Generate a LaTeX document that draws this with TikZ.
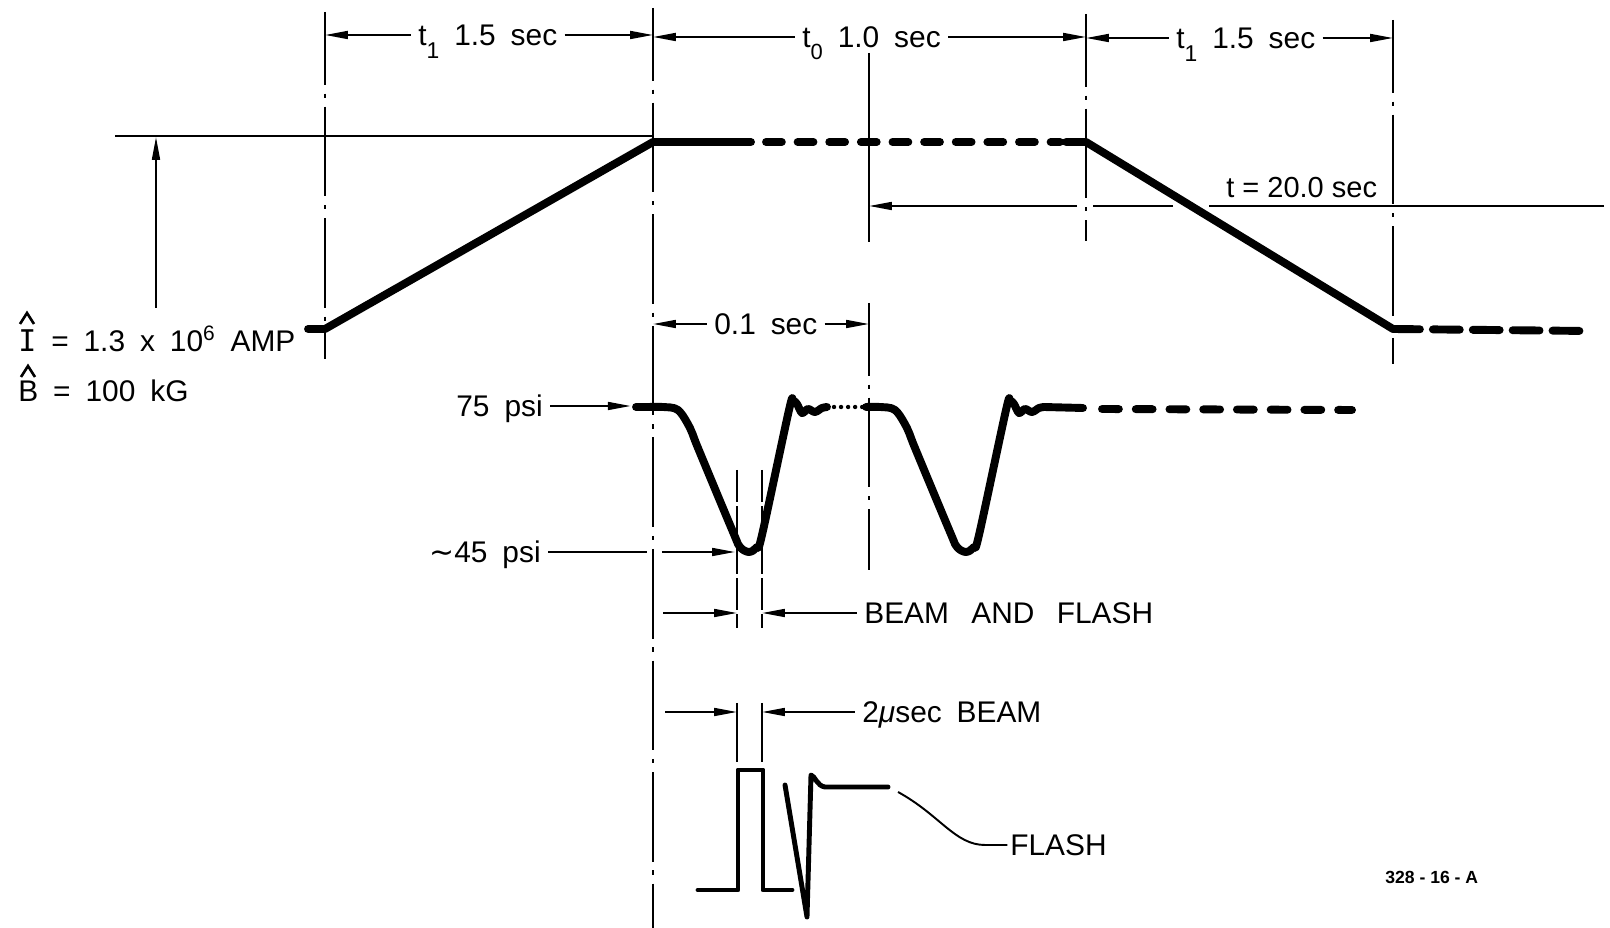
\documentclass[tikz,border=0pt]{standalone}
\usepackage{fontspec}
\setmainfont{Liberation Sans}
\newfontfamily\tildefont{DejaVu Sans}
\newfontfamily\serifcap{DejaVu Sans Mono}
\usetikzlibrary{arrows.meta, calc}

\newcommand\lettering{\fontsize{17}{20}\selectfont\spaceskip=0.5em plus 0.1em\relax}
\newcommand\lowsub[3]{\raisebox{#1}{\fontsize{#2}{#2}\selectfont #3}}

\begin{document}
\begin{tikzpicture}[
    x=0.02cm, y=-0.02cm,
    >={Triangle[length=13pt,width=4.5pt]},
    font=\lettering,
    thinline/.style={line width=1.1pt},
    centreline/.style={thinline, dash pattern=on 51pt off 5pt on 2.5pt off 5pt, dash phase=9.6pt},
    dim/.style={thinline, ->, shorten <=4pt},
    lab/.style={inner sep=0pt, text height=12.2pt, text depth=0pt, anchor=west},
    trace/.style={line width=4.5pt, line cap=round, line join=round},
    pulse/.style={line width=2.8pt, line cap=round, line join=round},
    winline/.style={thinline, dash pattern=on 18pt off 2.5pt},
    caret/.style={line width=1.5pt, line join=miter},
]
\useasboundingbox (0,0) rectangle (1610,928);

% centre lines
\coordinate (vA) at (325,12);  \draw[centreline] (vA) -- (325,359);
\coordinate (vB) at (653,8);   \draw[centreline] (vB) -- (653,928);
\coordinate (vC) at (1086,14); \draw[centreline] (vC) -- (1086,241);
\coordinate (vD) at (1393,20); \draw[centreline] (vD) -- (1393,364);
\coordinate (vE) at (869,53);  \draw[thinline] (vE) -- (869,242);
\coordinate (vF) at (869,303); \draw[centreline] (vF) -- (869,570);

% time intervals along the top
\node[lab] (t1a) at (418,35) {t\lowsub{-7pt}{13}{1} 1.5 sec};
\draw[dim] (t1a.west) -- (t1a.west -| vA);
\draw[dim] (t1a.east) -- (t1a.east -| vB);

\node[lab] (t0) at (802,37) {t\lowsub{-6.5pt}{12.5}{0} 1.0 sec};
\draw[dim] (t0.west) -- (t0.west -| vB);
\draw[dim] (t0.east) -- (t0.east -| vC);

\node[lab] (t1b) at (1176,38) {t\lowsub{-7pt}{13}{1} 1.5 sec};
\draw[dim] (t1b.west) -- (t1b.west -| vC);
\draw[dim] (t1b.east) -- (t1b.east -| vD);

% current pulse
\coordinate (ref) at (115,136);
\coordinate (itop) at (653,142);
\draw[thinline] (ref) -- (ref -| vB);
\draw[thinline, ->] (156,308) -- (156,137);
\draw[trace] (308,329) -- (325,329) -- (itop) -- (751,142);
\draw[trace, dash pattern=on 9pt off 9pt] (766,142) -- (1060,142);
\draw[trace] (1066,142) -- (1086,142) -- (1393,329);
\draw[trace, dash pattern=on 15.3pt off 7.4pt] (1393,329) -- (1588,331);

\node[inner sep=0pt, anchor=base west] (amp) at (18,352) {{\serifcap I} = 1.3 x 10\textsuperscript{6} AMP};
\node[inner sep=0pt, anchor=base west] (kg) at (18,402) {B = 100 kG};
\draw[caret] ($(amp.base west)+(2,-28)$) -- ++(7,-11) -- ++(7,11);
\draw[caret] ($(kg.base west)+(3,-25)$) -- ++(7,-11) -- ++(7,11);

% repetition period
\coordinate (r20) at (1604,206);
\node[inner sep=0pt, anchor=base west, font=\fontsize{16.5}{19}\selectfont] (t20) at (1226,198) {t = 20.0 sec};
\draw[thinline] (r20) -- (1209,206);
\draw[thinline] (1173,206) -- (1093,206);
\draw[thinline, ->] (1077,206) -- (vE |- r20);

\node[lab] (t01) at (714,324) {0.1 sec};
\draw[dim] (t01.west) -- (t01.west -| vB);
\draw[dim] (t01.east) -- (t01.east -| vF);

% pressure trace
\coordinate (p0) at (636,407);
\node[lab] (p75) at (456,406) {75 psi};
\draw[dim, shorten >=3pt] (p75.east) -- (p75.east -| p0);
\draw[trace] (p0) -- (650,407);
\foreach \dx in {0,217}
    \draw[trace, shift={(\dx,0)}] plot[smooth, tension=0.55] coordinates {(649,407) (663,407) (678,410)
        (690,428) (698,448) (733,532) (740,547) (749,552) (757,547) (762,535) (789,410) (793,401)
        (797,404) (802,413) (808,409) (815,412) (822,408) (827,407)};
\draw[trace, line width=2.5pt, dash pattern=on 0pt off 4pt] (827,407) -- (866,407);
\draw[trace] (1044,407) -- (1083,408);
\draw[trace, dash pattern=on 9.6pt off 9.6pt] (1102,409) -- (1352,410);

% beam window
\coordinate (b1) at (737,470);
\coordinate (b2) at (762,470);
\draw[winline] (b1) -- (737,628);
\draw[winline] (b2) -- (762,628);

\node[lab] (p45) at (429,552) {{\tildefont ∼}45 psi};
\draw[thinline, shorten <=4pt, shorten >=3.5pt] (p45.east) -- (p45.east -| vB);
\draw[thinline, ->, shorten <=5pt] (p45.east -| vB) -- ($(p45.east -| b1)+(-2,0)$);

\node[lab] (bf) at (864,613) {BEAM\hspace{0.25em} AND\hspace{0.25em} FLASH};
\draw[thinline, ->] ($(bf.west -| vB)+(10,0)$) -- (bf.west -| b1);
\draw[dim] (bf.west) -- (bf.west -| b2);

\coordinate (c1) at (737,703);
\coordinate (c2) at (762,703);
\draw[thinline] (c1) -- (737,762);
\draw[thinline] (c2) -- (762,762);
\node[lab] (bm) at (862,712) {2\textit{μ}sec BEAM};
\draw[thinline, ->] ($(bm.west -| vB)+(12,0)$) -- (bm.west -| c1);
\draw[dim] (bm.west) -- (bm.west -| c2);

% beam and flash signals
\draw[pulse] (698,890) -- (738,890) -- (738,770) -- (763,770) -- (763,890) -- (792,890);
\draw[pulse] (785,785) -- (807,917) -- (811,775) .. controls (815,776) and (817,786) .. (825,787) -- (888,787);
\coordinate (fl) at (898,792);
\node[lab] (flash) at (1010,845) {FLASH};
\draw[thinline, shorten >=1.5pt] (fl) .. controls (940,815) and (955,845) .. (985,845) -- (flash.west);

\node[inner sep=0pt, anchor=base west, font=\fontsize{10}{12}\selectfont\bfseries] (code) at (1385,884) {328 - 16 - A};

\end{tikzpicture}
\end{document}
